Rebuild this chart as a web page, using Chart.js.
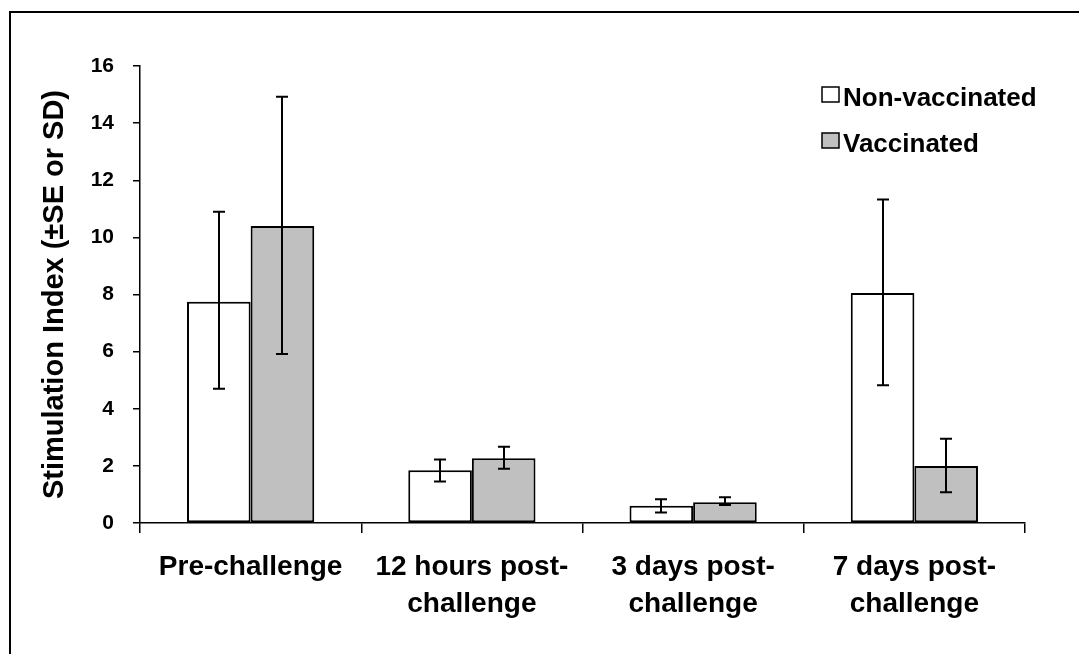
<!DOCTYPE html>
<html>
<head>
<meta charset="utf-8">
<script src="https://cdn.jsdelivr.net/npm/chart.js@4"></script>
<style>
  body { margin: 0; background: #fff; }
  canvas { display: block; }
</style>
</head>
<body>
<canvas id="grafico" width="1079" height="654"></canvas>
<script>
// valores
const categorias = [['Pre-challenge'], ['12 hours post-', 'challenge'], ['3 days post-', 'challenge'], ['7 days post-', 'challenge']];
const naoVacinados = [7.75, 1.85, 0.6, 8.05];
const vacinados = [10.4, 2.27, 0.73, 2.0];
const naoVacErroMin = [4.7, 1.45, 0.37, 4.82];
const naoVacErroMax = [10.9, 2.22, 0.83, 11.33];
const vacErroMin = [5.92, 1.9, 0.63, 1.08];
const vacErroMax = [14.92, 2.67, 0.9, 2.95];
const ticksY = [0, 2, 4, 6, 8, 10, 12, 14, 16];

const fonte = '"Liberation Sans", Arial, sans-serif';

// moldura, barras de erro e legenda
const extras = {
  id: 'extras',
  beforeDraw(chart) {
    const ctx = chart.ctx;
    ctx.save();
    ctx.fillStyle = '#fff';
    ctx.fillRect(0, 0, chart.width, chart.height);
    ctx.strokeStyle = '#000';
    ctx.lineWidth = 2;
    ctx.beginPath();
    ctx.moveTo(chart.width, 12);
    ctx.lineTo(10, 12);
    ctx.lineTo(10, chart.height);
    ctx.stroke();
    ctx.restore();
  },
  afterDatasetsDraw(chart) {
    const ctx = chart.ctx;
    const y = chart.scales.y;
    const erros = [[naoVacErroMin, naoVacErroMax], [vacErroMin, vacErroMax]];
    ctx.save();
    ctx.strokeStyle = '#000';
    ctx.lineWidth = 2;
    chart.data.datasets.forEach((ds, i) => {
      const meta = chart.getDatasetMeta(i);
      meta.data.forEach((barra, j) => {
        const x = Math.round(barra.x);
        const y1 = y.getPixelForValue(erros[i][0][j]);
        const y2 = y.getPixelForValue(erros[i][1][j]);
        ctx.beginPath();
        ctx.moveTo(x, y1); ctx.lineTo(x, y2);
        ctx.moveTo(x - 6, y1); ctx.lineTo(x + 6, y1);
        ctx.moveTo(x - 6, y2); ctx.lineTo(x + 6, y2);
        ctx.stroke();
      });
    });
    ctx.restore();
  },
  afterDraw(chart) {
    const ctx = chart.ctx;
    ctx.save();
    ctx.font = 'bold 26px ' + fonte;
    ctx.textBaseline = 'alphabetic';
    ctx.textAlign = 'left';
    chart.data.datasets.forEach((ds, i) => {
      const topo = 87 + i * 46;
      ctx.fillStyle = ds.backgroundColor;
      ctx.fillRect(822, topo, 17, 15);
      ctx.strokeStyle = '#000';
      ctx.lineWidth = 1.5;
      ctx.strokeRect(822, topo, 17, 15);
      ctx.fillStyle = '#000';
      ctx.fillText(ds.label, 843, topo + 19);
    });
    ctx.restore();
  }
};

new Chart(document.getElementById('grafico'), {
  type: 'bar',
  data: {
    labels: categorias,
    datasets: [
      {
        label: 'Non-vaccinated',
        data: naoVacinados,
        backgroundColor: '#ffffff',
        borderColor: '#000',
        borderWidth: 2,
        borderSkipped: false
      },
      {
        label: 'Vaccinated',
        data: vacinados,
        backgroundColor: '#c0c0c0',
        borderColor: '#000',
        borderWidth: 2,
        borderSkipped: false
      }
    ]
  },
  options: {
    responsive: false,
    animation: false,
    categoryPercentage: 0.575,
    barPercentage: 1.0,
    layout: { padding: { top: 66, right: 54, bottom: 0, left: 0 } },
    plugins: {
      legend: { display: false },
      tooltip: { enabled: false }
    },
    scales: {
      x: {
        afterFit: scale => { scale.height = 131; },
        border: { display: true, color: '#000', width: 1.5 },
        grid: { offset: true, drawOnChartArea: false, drawTicks: true, tickLength: 10, color: '#000', lineWidth: 1.5 },
        ticks: {
          color: '#000',
          padding: 15,
          maxRotation: 0,
          autoSkip: false,
          font: { family: fonte, size: 28, weight: 'bold', lineHeight: 1.35 }
        }
      },
      y: {
        min: 0,
        max: 16,
        afterFit: scale => { scale.width = 140; },
        afterBuildTicks: scale => { scale.ticks = ticksY.map(v => ({ value: v })); },
        border: { display: true, color: '#000', width: 1.5 },
        grid: { drawOnChartArea: false, drawTicks: true, tickLength: 7, color: '#000', lineWidth: 1.5 },
        ticks: {
          color: '#000',
          padding: 19,
          font: { family: fonte, size: 21, weight: 'bold' }
        },
        title: {
          display: true,
          text: 'Stimulation Index (±SE or SD)',
          color: '#000',
          padding: { top: 38, bottom: 0 },
          font: { family: fonte, size: 29, weight: 'bold' }
        }
      }
    }
  },
  plugins: [extras]
});
</script>
</body>
</html>
